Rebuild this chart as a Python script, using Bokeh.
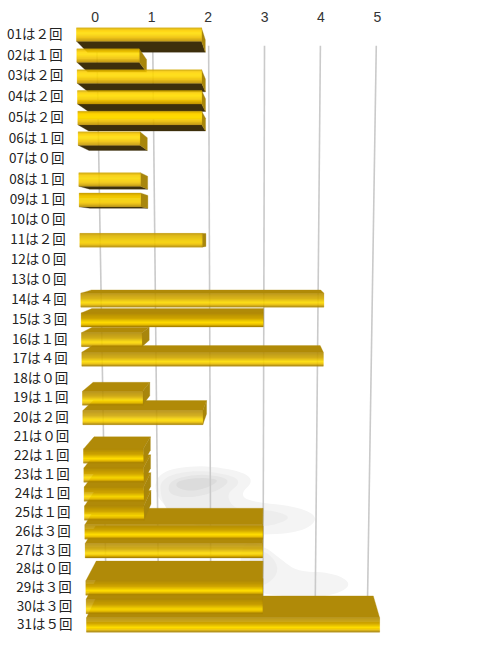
from bokeh.plotting import figure
from bokeh.models import ColumnDataSource, Range1d
from bokeh.core.properties import value
from bokeh.embed import file_html
from bokeh.resources import INLINE

# ---------- data ----------
days = ["01","02","03","04","05","06","07","08","09","10","11","12","13","14","15","16",
        "17","18","19","20","21","22","23","24","25","26","27","28","29","30","31"]
counts = [2,1,2,2,2,1,0,1,1,0,2,0,0,4,3,1,4,0,1,2,0,1,1,1,1,3,3,0,3,3,5]
value_ticks = [0,1,2,3,4,5]
FW = str.maketrans("0123456789", "０１２３４５６７８９")
row_labels = [f"{d}は{str(c).translate(FW)}回" for d, c in zip(days, counts)]

# ---------- perspective scene (page pixels) ----------
VX, VY = 268.0, 235.0
K_BAR, K_WALL, K_TICK = 0.943, 0.893, 0.90

def row_y(t):
    return (33.5 + 21.13*t) / (1 + 0.00232*t) + 0.5

def front_x(v, t):
    return 76 + t/3 + v*62.5/(1 + 0.0022*t)

def proj(x, y, k):
    return VX + (x-VX)*k, VY + (y-VY)*k

TOP, UNDER, SIDE = "#b08a08", "#3d2f0c", "#a8860c"

def rgb(c):
    return [int(c[i:i+2], 16) for i in (1,3,5)]

UPPER = [(0,"#c9a000"),(.2,"#ffd200"),(.45,"#ffde00"),(.75,"#efc000"),(1,"#c09400")]
LOWER = [(0,"#b08a08"),(.4,"#d0a600"),(.68,"#ffde00"),(.85,"#ecc000"),(1,"#987400")]

def ramp(stops, f):
    for (a, ca), (b, cb) in zip(stops, stops[1:]):
        if f <= b:
            g = (f-a)/(b-a)
            return [p+(q-p)*g for p, q in zip(rgb(ca), rgb(cb))]
    return rgb(stops[-1][1])

def face_colour(f, t):
    g = min(max((t-6)/8, 0), 1)
    c = [p+(q-p)*g for p, q in zip(ramp(UPPER, f), ramp(LOWER, f))]
    return "#%02x%02x%02x" % tuple(round(z) for z in c)

px, py, pc = [], [], []
def poly(xs, ys, c):
    px.append(xs); py.append(ys); pc.append(c)

order = sorted(range(31), key=lambda t: -abs(row_y(t)-VY))
STRIPS = 14
for t in order:
    v = counts[t]
    if v == 0:
        continue
    yc = row_y(t); h = 6.7 + t*0.02
    y0, y1 = yc-h, yc+h
    xl, xr = front_x(0, t), front_x(v, t)
    bl_t = proj(xl, y0, K_BAR); br_t = proj(xr, y0, K_BAR)
    bl_b = proj(xl, y1, K_BAR); br_b = proj(xr, y1, K_BAR)
    if y0 > VY:   # upper surface seen
        poly([xl, xr, br_t[0], bl_t[0]], [y0, y0, br_t[1], bl_t[1]], TOP)
    if y1 < VY:   # underside seen
        poly([xl, xr, br_b[0], bl_b[0]], [y1, y1, br_b[1], bl_b[1]], UNDER)
    if xr < VX:   # end cap seen
        poly([xr, br_t[0], br_b[0], xr], [y0, br_t[1], br_b[1], y1], SIDE)
    for i in range(STRIPS):
        a = y0 + (y1-y0)*i/STRIPS
        b = y0 + (y1-y0)*(i+1)/STRIPS
        poly([xl, xr, xr, xl], [a, a, b, b], face_colour((i+0.5)/STRIPS, t))

# ---------- figure ----------
p = figure(width=481, height=649, x_range=Range1d(0, 481), y_range=Range1d(649, 0),
           output_backend="svg", toolbar_location=None, min_border=0,
           x_axis_type=None, y_axis_type=None, outline_line_color=None)
p.xgrid.visible = False
p.ygrid.visible = False
p.background_fill_color = "white"
p.border_fill_color = "white"

# soft shadow on the wall behind the bars
def smooth(pts, n=3):
    for _ in range(n):
        out = []
        for i in range(len(pts)):
            a, b = pts[i], pts[(i+1) % len(pts)]
            out += [(a[0]*.75+b[0]*.25, a[1]*.75+b[1]*.25), (a[0]*.25+b[0]*.75, a[1]*.25+b[1]*.75)]
        pts = out
    return [q[0] for q in pts], [q[1] for q in pts]

shadow_layers = [
    ("#f4f4f4", [[(155,500),(155,472),(197,464),(243,471),(253,481),(240,493),(248,501),(297,506),(319,517),(303,531),(263,535),(200,530)],
                 [(240,540),(263,545),(282,560),(297,571),(332,572),(352,583),(337,594),(300,598),(240,590)]]),
    ("#ededed", [[(160,497),(160,477),(195,469),(233,475),(240,483),(225,494),(235,510),(270,509),(293,517),(270,526),(240,526),(170,515)],
                 [(250,550),(268,551),(280,570),(265,586),(245,585)]]),
    ("#e5e5e5", [[(167,492),(170,479),(200,473),(230,478),(222,488),(200,496),(180,497)]]),
    ("#dcdcdc", [[(175,487),(177,480),(200,477),(220,479),(208,487),(190,491)]]),
]
for colour, blobs in shadow_layers:
    sx, sy = zip(*[smooth(b) for b in blobs])
    p.patches(list(sx), list(sy), fill_color=colour, line_color=None)

# wall grid lines
gx, gy = [], []
for v in value_ticks:
    a = proj(front_x(v, -0.55), row_y(-0.55), K_WALL)
    b = proj(front_x(v, 31), row_y(31), K_WALL)
    gx.append([a[0], b[0]]); gy.append([a[1], b[1]])
p.multi_line(gx, gy, line_color="#cacaca", line_width=1.6)

# bars
p.patches(xs="x", ys="y", fill_color="c", line_color="c", line_width=0.3,
          source=ColumnDataSource(dict(x=px, y=py, c=pc)))

# value labels along the top
tx = [proj(front_x(v, -1.5), 0, K_TICK)[0] for v in value_ticks]
p.text(tx, [16]*len(tx), text=[str(v) for v in value_ticks], text_align="center",
       text_baseline="middle", text_font=value("Liberation Sans"), text_font_size="14px",
       text_color="#333333")

# row labels
lx = [front_x(0, t)-14 for t in range(31)]
ly = [row_y(t)-2 for t in range(31)]
p.text(lx, ly, text=row_labels, text_align="right", text_baseline="middle",
       text_font=value("Noto Sans CJK JP"), text_font_size="13.5px", text_color="#222222")

open("out.html", "w").write(file_html(p, INLINE))
